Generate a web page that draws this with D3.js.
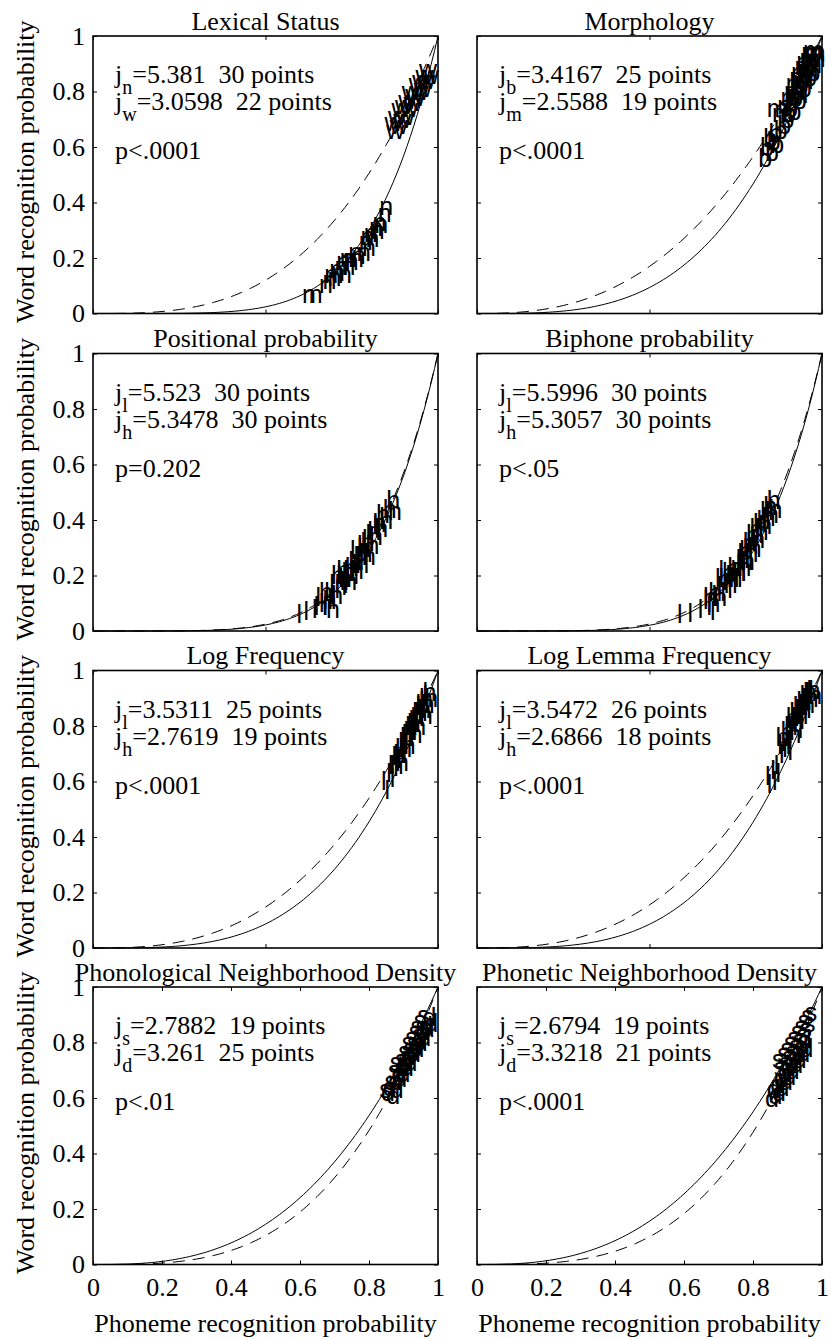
<!DOCTYPE html>
<html>
<head>
<meta charset="utf-8">
<script src="https://cdn.jsdelivr.net/npm/d3@7"></script>
<style>
  body { margin: 0; background: #fff; }
  text { white-space: pre; }
</style>
</head>
<body>
<div id="chart"></div>
<script>
// panel texts
const titles = ["Lexical Status", "Morphology", "Positional probability", "Biphone probability",
  "Log Frequency", "Log Lemma Frequency", "Phonological Neighborhood Density", "Phonetic Neighborhood Density"];
const expA = [5.381, 3.4167, 5.523, 5.5996, 3.5311, 3.5472, 2.7882, 2.6794];   // solid curve
const expB = [3.0598, 2.5588, 5.3478, 5.3057, 2.7619, 2.6866, 3.261, 3.3218]; // dashed curve
const expAText = ["5.381", "3.4167", "5.523", "5.5996", "3.5311", "3.5472", "2.7882", "2.6794"];
const expBText = ["3.0598", "2.5588", "5.3478", "5.3057", "2.7619", "2.6866", "3.261", "3.3218"];
const letterA = ["n", "b", "l", "l", "l", "l", "s", "s"];
const letterB = ["w", "m", "h", "h", "h", "h", "d", "d"];
const pText = ["p<.0001", "p<.0001", "p=0.202", "p<.05", "p<.0001", "p<.0001", "p<.01", "p<.0001"];

const yTicks = [0, 0.2, 0.4, 0.6, 0.8, 1];
const xTicksTop = [0, 0.5, 1];
const xTicksBottom = [0, 0.2, 0.4, 0.6, 0.8, 1];

// data points [phoneme prob, word prob]
const lexicalN = [[0.606,0.068],[0.625,0.07],[0.655,0.105],[0.665,0.12],[0.67,0.14],[0.68,0.13],[0.685,0.16],[0.69,0.15],
  [0.70,0.17],[0.705,0.19],[0.71,0.14],[0.715,0.2],[0.72,0.17],[0.725,0.2],[0.73,0.19],[0.74,0.22],[0.745,0.2],[0.75,0.21],
  [0.765,0.22],[0.77,0.26],[0.775,0.28],[0.78,0.24],[0.785,0.29],[0.79,0.27],[0.80,0.31],[0.805,0.3],[0.81,0.33],[0.815,0.32],
  [0.825,0.36],[0.83,0.385]];
const lexicalW = [[0.845,0.69],[0.85,0.66],[0.855,0.71],[0.86,0.68],[0.865,0.74],[0.87,0.70],[0.875,0.75],[0.88,0.71],
  [0.885,0.77],[0.89,0.74],[0.895,0.80],[0.90,0.76],[0.905,0.79],[0.91,0.78],[0.915,0.83],[0.92,0.80],[0.925,0.84],[0.93,0.81],
  [0.935,0.86],[0.94,0.84],[0.945,0.88],[0.95,0.86]];
const morphB = [[0.815,0.56],[0.82,0.6],[0.83,0.63],[0.835,0.58],[0.84,0.62],[0.845,0.65],[0.85,0.61],[0.86,0.66],[0.87,0.68],
  [0.88,0.70],[0.885,0.72],[0.89,0.74],[0.895,0.76],[0.90,0.73],[0.905,0.78],[0.91,0.80],[0.915,0.77],[0.92,0.82],[0.925,0.84],
  [0.93,0.81],[0.935,0.86],[0.94,0.88],[0.945,0.85],[0.95,0.90],[0.955,0.87]];
const morphM = [[0.84,0.74],[0.855,0.72],[0.87,0.75],[0.88,0.78],[0.89,0.80],[0.895,0.83],[0.90,0.79],[0.905,0.85],[0.91,0.87],
  [0.915,0.84],[0.92,0.89],[0.925,0.91],[0.93,0.88],[0.935,0.92],[0.94,0.90],[0.94,0.94],[0.945,0.95],[0.95,0.92],[0.95,0.94]];
const posL = [[0.59,0.06],[0.61,0.07],[0.635,0.08],[0.645,0.12],[0.655,0.10],[0.665,0.09],[0.67,0.14],[0.68,0.11],[0.685,0.17],
  [0.69,0.13],[0.70,0.15],[0.705,0.20],[0.715,0.18],[0.72,0.16],[0.725,0.22],[0.73,0.19],[0.74,0.21],[0.745,0.29],[0.75,0.24],
  [0.755,0.20],[0.76,0.27],[0.765,0.31],[0.77,0.25],[0.78,0.33],[0.785,0.28],[0.79,0.35],[0.80,0.32],[0.81,0.38],[0.82,0.36],
  [0.83,0.41]];
const posH = [[0.64,0.09],[0.655,0.14],[0.665,0.11],[0.675,0.08],[0.685,0.13],[0.69,0.20],[0.70,0.17],[0.705,0.22],[0.71,0.19],
  [0.72,0.21],[0.725,0.18],[0.73,0.23],[0.74,0.25],[0.745,0.22],[0.755,0.27],[0.76,0.24],[0.765,0.30],[0.77,0.28],[0.775,0.32],
  [0.78,0.27],[0.79,0.31],[0.795,0.36],[0.80,0.34],[0.81,0.39],[0.815,0.37],[0.82,0.42],[0.83,0.40],[0.84,0.44],[0.85,0.47],
  [0.855,0.43]];
const biL = [[0.58,0.06],[0.61,0.065],[0.64,0.08],[0.655,0.11],[0.665,0.09],[0.675,0.07],[0.68,0.13],[0.69,0.19],[0.695,0.16],
  [0.70,0.22],[0.705,0.14],[0.71,0.18],[0.72,0.20],[0.725,0.15],[0.735,0.22],[0.745,0.19],[0.75,0.24],[0.755,0.28],[0.76,0.26],
  [0.765,0.21],[0.77,0.30],[0.775,0.27],[0.78,0.32],[0.785,0.25],[0.79,0.34],[0.80,0.31],[0.805,0.37],[0.815,0.35],[0.825,0.40],
  [0.835,0.43]];
const biH = [[0.655,0.12],[0.665,0.10],[0.67,0.14],[0.685,0.12],[0.70,0.19],[0.71,0.21],[0.715,0.17],[0.725,0.23],[0.73,0.19],
  [0.74,0.21],[0.75,0.26],[0.755,0.23],[0.76,0.29],[0.765,0.25],[0.77,0.32],[0.775,0.28],[0.78,0.35],[0.785,0.30],[0.79,0.37],
  [0.795,0.33],[0.80,0.39],[0.805,0.36],[0.81,0.40],[0.815,0.38],[0.82,0.43],[0.825,0.41],[0.83,0.45],[0.835,0.42],[0.84,0.47],
  [0.845,0.44]];
const freqL = [[0.835,0.60],[0.845,0.57],[0.85,0.63],[0.855,0.66],[0.86,0.61],[0.865,0.69],[0.87,0.65],[0.875,0.72],[0.88,0.68],
  [0.885,0.74],[0.89,0.70],[0.895,0.77],[0.90,0.73],[0.905,0.80],[0.91,0.76],[0.915,0.82],[0.92,0.78],[0.925,0.85],[0.93,0.81],
  [0.935,0.87],[0.94,0.84],[0.945,0.89],[0.95,0.86],[0.955,0.91],[0.96,0.88]];
const freqH = [[0.86,0.66],[0.87,0.70],[0.875,0.67],[0.885,0.72],[0.89,0.76],[0.895,0.73],[0.90,0.78],[0.91,0.81],[0.915,0.77],
  [0.92,0.83],[0.925,0.80],[0.93,0.85],[0.935,0.88],[0.94,0.86],[0.945,0.90],[0.95,0.88],[0.955,0.92],[0.96,0.90],[0.945,0.84]];
const lemmaL = [[0.835,0.62],[0.84,0.59],[0.85,0.64],[0.855,0.60],[0.86,0.66],[0.865,0.63],[0.875,0.70],[0.88,0.74],[0.885,0.72],
  [0.89,0.77],[0.895,0.75],[0.90,0.80],[0.905,0.78],[0.91,0.83],[0.915,0.81],[0.92,0.86],[0.925,0.84],[0.93,0.88],[0.935,0.85],
  [0.94,0.90],[0.945,0.87],[0.95,0.92],[0.955,0.89],[0.96,0.93],[0.93,0.79],[0.90,0.71]];
const lemmaH = [[0.865,0.76],[0.87,0.73],[0.88,0.78],[0.89,0.80],[0.895,0.83],[0.905,0.85],[0.91,0.82],[0.915,0.87],[0.92,0.84],
  [0.925,0.89],[0.93,0.86],[0.935,0.91],[0.94,0.88],[0.945,0.92],[0.95,0.90],[0.955,0.93],[0.96,0.91],[0.90,0.77]];
const phonoS = [[0.83,0.63],[0.845,0.66],[0.855,0.70],[0.86,0.73],[0.865,0.68],[0.875,0.74],[0.88,0.72],[0.885,0.77],[0.89,0.75],
  [0.895,0.80],[0.90,0.78],[0.905,0.82],[0.91,0.80],[0.915,0.84],[0.92,0.86],[0.925,0.83],[0.93,0.88],[0.935,0.86],[0.94,0.90]];
const phonoD = [[0.835,0.62],[0.84,0.64],[0.85,0.61],[0.855,0.66],[0.86,0.63],[0.865,0.69],[0.87,0.67],[0.875,0.71],[0.88,0.69],
  [0.885,0.73],[0.89,0.71],[0.895,0.75],[0.90,0.73],[0.905,0.77],[0.91,0.76],[0.915,0.79],[0.92,0.78],[0.925,0.81],[0.93,0.80],
  [0.935,0.84],[0.94,0.82],[0.945,0.86],[0.95,0.85],[0.955,0.89],[0.96,0.87]];
const phonetS = [[0.855,0.74],[0.86,0.71],[0.87,0.76],[0.875,0.73],[0.88,0.78],[0.885,0.75],[0.89,0.80],[0.895,0.77],[0.90,0.82],
  [0.905,0.79],[0.91,0.84],[0.915,0.81],[0.92,0.86],[0.925,0.83],[0.93,0.88],[0.935,0.85],[0.94,0.90],[0.945,0.87],[0.95,0.91]];
const phonetD = [[0.835,0.60],[0.84,0.63],[0.845,0.61],[0.85,0.65],[0.855,0.62],[0.86,0.67],[0.865,0.64],[0.87,0.69],[0.875,0.66],
  [0.88,0.71],[0.885,0.68],[0.89,0.73],[0.895,0.70],[0.90,0.75],[0.905,0.72],[0.91,0.77],[0.915,0.74],[0.92,0.79],[0.925,0.76],
  [0.93,0.81],[0.935,0.78]];

const pointsA = [lexicalN, morphB, posL, biL, freqL, lemmaL, phonoS, phonetS];
const pointsB = [lexicalW, morphM, posH, biH, freqH, lemmaH, phonoD, phonetD];

// layout
const W = 831, H = 1339;
const colLeft = [93, 477];
const rowTop = [36, 353.5, 670.5, 987];
const pw = 345, ph = 277.5;
const serif = "Liberation Serif";
const sans = "Liberation Sans";

const svg = d3.select("#chart").append("svg")
  .attr("width", W).attr("height", H)
  .style("background", "#fff")
  .style("font-family", serif);

const x = d3.scaleLinear().domain([0, 1]).range([0, pw]);
const y = d3.scaleLinear().domain([0, 1]).range([ph, 0]);
const curveX = d3.range(0, 1.0001, 0.01);

const line = d3.line().x(d => x(d[0])).y(d => y(d[1]));

titles.forEach((title, i) => {
  const col = i % 2, row = Math.floor(i / 2);
  const g = svg.append("g").attr("transform", `translate(${colLeft[col]},${rowTop[row]})`);
  const bottomRow = row === 3;
  const xt = bottomRow ? xTicksBottom : xTicksTop;

  // axes, inward ticks on all four sides
  const ax = [
    g.append("g").attr("transform", `translate(0,${ph})`)
      .call(d3.axisBottom(x).tickValues(xt).tickSizeInner(-4).tickSizeOuter(0).tickPadding(13)
        .tickFormat(bottomRow ? d => String(d) : "")),
    g.append("g")
      .call(d3.axisTop(x).tickValues(xt).tickSizeInner(-4).tickSizeOuter(0).tickFormat("")),
    g.append("g")
      .call(d3.axisLeft(y).tickValues(yTicks).tickSizeInner(-4).tickSizeOuter(0).tickPadding(8)
        .tickFormat(col === 0 ? d => String(d) : "")),
    g.append("g").attr("transform", `translate(${pw},0)`)
      .call(d3.axisRight(y).tickValues(yTicks).tickSizeInner(-4).tickSizeOuter(0).tickFormat(""))
  ];
  ax.forEach(a => {
    a.attr("font-family", null).attr("font-size", null);
    a.select(".domain").remove();
    a.selectAll("line").attr("stroke", "#000").attr("stroke-width", 1);
    a.selectAll("text").style("font-family", serif).style("font-size", "26px").attr("fill", "#000");
  });

  // fitted curves
  g.append("path").datum(curveX.map(v => [v, Math.pow(v, expA[i])]))
    .attr("d", line).attr("fill", "none").attr("stroke", "#000").attr("stroke-width", 1);
  g.append("path").datum(curveX.map(v => [v, Math.pow(v, expB[i])]))
    .attr("d", line).attr("fill", "none").attr("stroke", "#000").attr("stroke-width", 1)
    .attr("stroke-dasharray", "12,8");

  // letter markers
  [[pointsA[i], letterA[i]], [pointsB[i], letterB[i]]].forEach(([pts, letter]) => {
    g.append("g").selectAll("text").data(pts).join("text")
      .attr("x", d => x(d[0])).attr("y", d => y(d[1])).attr("dy", "0.35em")
      .style("font-family", sans).style("font-size", "25px").attr("fill", "#000")
      .text(letter);
  });

  // box
  g.append("rect").attr("width", pw).attr("height", ph)
    .attr("fill", "none").attr("stroke", "#000").attr("stroke-width", 1.6);

  // title
  g.append("text").attr("x", pw / 2).attr("y", -6.5).attr("text-anchor", "middle")
    .style("font-size", "26px").text(title);

  // annotation
  const note = g.append("g").style("font-size", "26px").attr("fill", "#000");
  [[letterA[i], expAText[i], pointsA[i].length, 47], [letterB[i], expBText[i], pointsB[i].length, 74]]
    .forEach(([sub, val, n, by]) => {
      const t = note.append("text").attr("x", 22).attr("y", by);
      t.append("tspan").text("j");
      t.append("tspan").attr("dy", 11).style("font-size", "20px").text(sub);
      t.append("tspan").attr("dy", -11).text(`=${val}  ${n} points`);
    });
  note.append("text").attr("x", 22).attr("y", 123).text(pText[i]);

  // axis labels
  if (col === 0) {
    g.append("text").attr("transform", `translate(-59,${ph / 2 - 3}) rotate(-90)`)
      .attr("text-anchor", "middle").style("font-size", "26px")
      .text("Word recognition probability");
  }
  if (bottomRow) {
    g.append("text").attr("x", pw / 2).attr("y", ph + 67).attr("text-anchor", "middle")
      .style("font-size", "26px")
      .text("Phoneme recognition probability");
  }
});
</script>
</body>
</html>
